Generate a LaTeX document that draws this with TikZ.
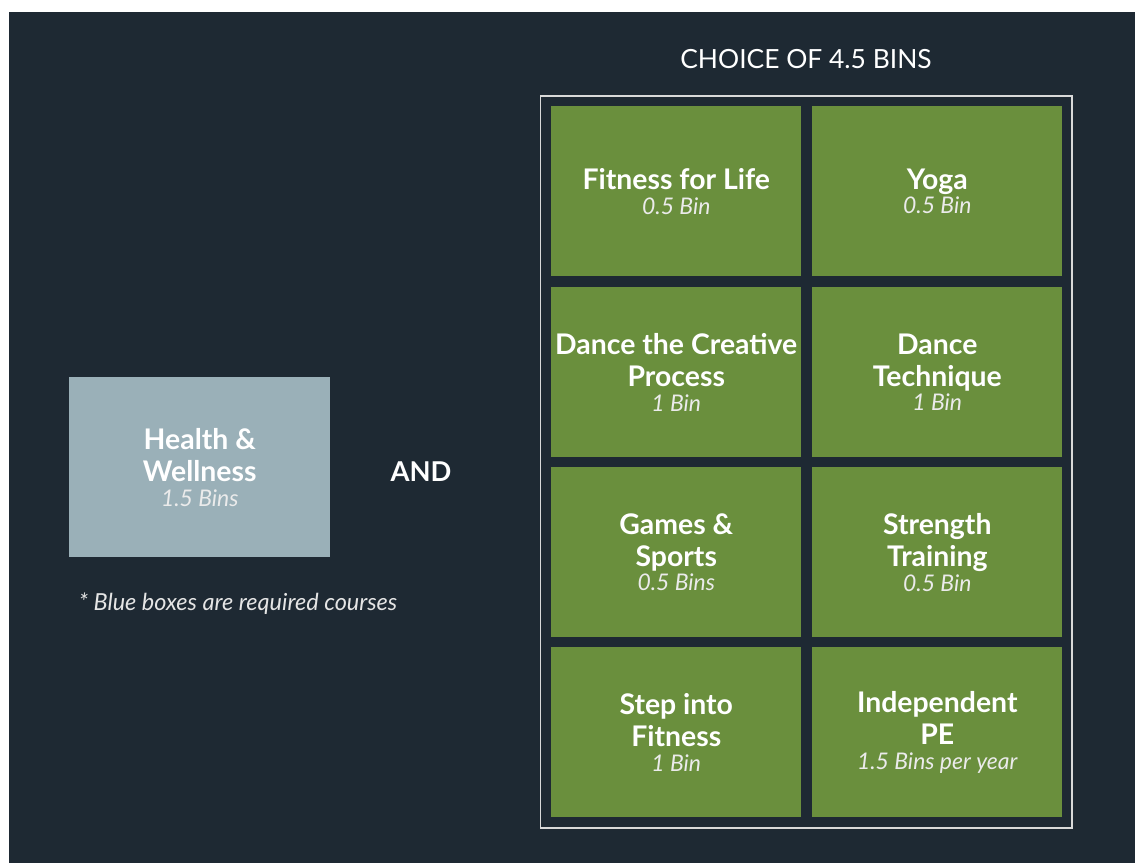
\documentclass[tikz,border=0pt]{standalone}
\usepackage{fontspec}
\setmainfont{Lato}
\definecolor{bgdark}{RGB}{30,41,51}
\definecolor{pegreen}{RGB}{106,143,61}
\definecolor{reqblue}{RGB}{154,176,184}
\tikzset{
  course/.style={fill=pegreen, text=white, align=center, anchor=north west,
    minimum width=187.5pt, minimum height=127.5pt, inner sep=0pt,
    execute at begin node={\rule{0pt}{23pt}},
    font=\fontsize{21.3}{24}\selectfont\bfseries},
  required/.style={course, fill=reqblue},
  frame/.style={draw=white!85!black, line width=1pt}
}
\newcommand{\bins}[1]{\\[-5.5pt]{\fontsize{17.2}{20}\selectfont\mdseries\itshape\color{white!92!black}#1}}

\begin{document}
\begin{tikzpicture}[x=0.75pt,y=0.75pt,yscale=-1,xscale=1]
\useasboundingbox (0,0) rectangle (1135,863);
%set the dark page behind everything
\fill [bgdark] (9,12) rectangle (1135,863);

%Shape: Rectangle [frame round the choices]
\draw [frame] (540.5,96) rectangle (1072,828);

% Text Node
\node (choice) at (806,59) [text=white, font=\fontsize{19.8}{22}\selectfont] {CHOICE OF 4.5 BINS};

%Shape: Rectangle [required course]
\node [required, minimum width=195.75pt, minimum height=135pt] (health) at (69,377) {Health \&\\Wellness\bins{1.5 Bins}};

% Text Node
\node (and) at (421,472) [text=white, font=\fontsize{20.5}{22}\selectfont\bfseries] {AND};
% Text Node
\node (note) at (238,604) [text=white!90!black, font=\fontsize{17.6}{20}\selectfont\itshape] {* Blue boxes are required courses};

%Shape: Rectangle [first row]
\node [course] (fitness) at (551,106) {Fitness for Life\bins{0.5 Bin}};
\node [course] (yoga) at (812,106) {Yoga\bins{0.5 Bin}};
%Shape: Rectangle [second row]
\node [course] (creative) at (551,287) {Dance the Creative\\Process\bins{1 Bin}};
\node [course] (technique) at (812,287) {Dance\\Technique\bins{1 Bin}};
%Shape: Rectangle [third row]
\node [course] (games) at (551,467) {Games \&\\Sports\bins{0.5 Bins}};
\node [course] (strength) at (812,467) {Strength\\Training\bins{0.5 Bin}};
%Shape: Rectangle [fourth row]
\node [course] (step) at (551,647) {Step into\\Fitness\bins{1 Bin}};
\node [course] (indep) at (812,647) {Independent\\PE\bins{1.5 Bins per year}};

\end{tikzpicture}
\end{document}
